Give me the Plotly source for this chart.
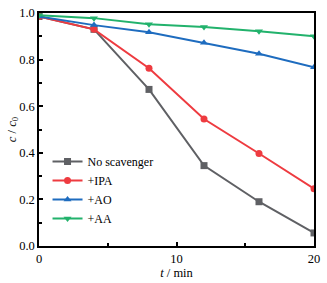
import plotly.graph_objects as go

t = [0, 4, 8, 12, 16, 20]
no_scav = [0.985, 0.93, 0.672, 0.345, 0.19, 0.056]
ipa = [0.985, 0.93, 0.763, 0.545, 0.397, 0.246]
ao = [0.985, 0.948, 0.917, 0.872, 0.825, 0.767]
aa = [0.99, 0.978, 0.952, 0.94, 0.922, 0.90]

names = ["No scavenger", "+IPA", "+AO", "+AA"]
colors = ["#5f6064", "#ee3b40", "#1e6cbf", "#22b26c"]
symbols = ["square", "circle", "triangle-up", "triangle-down"]
series = [no_scav, ipa, ao, aa]

fig = go.Figure()
for n, c, s, y in zip(names, colors, symbols, series):
    fig.add_trace(go.Scatter(x=t, y=y, name=n, mode="lines+markers",
                             line=dict(color=c, width=2),
                             marker=dict(symbol=s, size=7, color=c)))

font = "Liberation Serif, Times New Roman, serif"
axis_common = dict(showline=True, linecolor="black", linewidth=1.5, mirror=True,
                   ticks="inside", ticklen=4, tickwidth=1.5, tickcolor="black",
                   showgrid=False, zeroline=False, automargin=False,
                   ticklabeloverflow="allow",
                   tickfont=dict(family=font, size=12.5, color="black"))
fig.update_xaxes(range=[0, 20], tickvals=[0, 10, 20],
                 minor=dict(tickvals=[5, 15], ticks="inside", ticklen=3, tickwidth=1.5, tickcolor="black"),
                 title=dict(text="<i>t</i> / min", font=dict(family=font, size=12.5, color="black"), standoff=0),
                 **axis_common)
fig.update_yaxes(range=[0, 1.0], tickvals=[0, 0.2, 0.4, 0.6, 0.8, 1.0], tickformat=".1f",
                 minor=dict(tickvals=[0.1, 0.3, 0.5, 0.7, 0.9], ticks="inside", ticklen=3, tickwidth=1.5, tickcolor="black"),
                 title=dict(text="<i>c</i> / <i>c</i><sub>0</sub>", font=dict(family=font, size=12.5, color="black"), standoff=0),
                 **axis_common)
fig.update_layout(width=327, height=283, margin=dict(l=39, r=13, t=13, b=37),
                  plot_bgcolor="white", paper_bgcolor="white",
                  font=dict(family=font, size=12, color="black"),
                  legend=dict(x=0.031, y=0.425, xanchor="left", yanchor="top",
                              bgcolor="rgba(0,0,0,0)", font=dict(family=font, size=12, color="black"),
                              tracegroupgap=0, itemwidth=30))
fig.write_html("out.html", config={"displayModeBar": False},
               post_script="document.body.style.margin='0px';")
